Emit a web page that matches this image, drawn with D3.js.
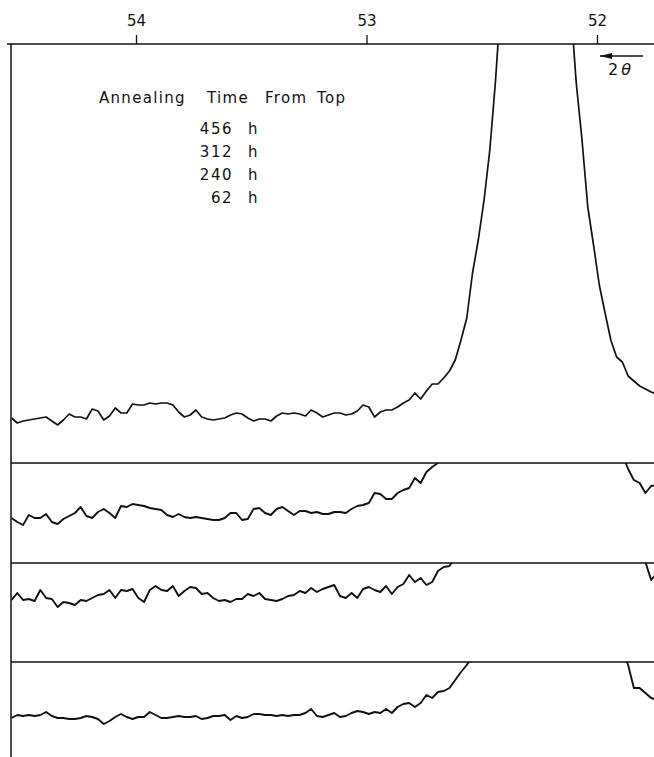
<!DOCTYPE html>
<html>
<head>
<meta charset="utf-8">
<script src="https://cdn.jsdelivr.net/npm/d3@7"></script>
<style>
  body { margin: 0; background: #fff; }
  svg text { font-family: "DejaVu Sans", sans-serif; fill: #111; }
</style>
</head>
<body>
<div id="main"></div>
<script>
// 2-theta sampling (degrees), scan runs from high angle (left) to low angle (right)
const twoTheta = [
  54.54, 54.515, 54.49, 54.465, 54.44, 54.415, 54.39, 54.365, 54.34, 54.315,
  54.29, 54.265, 54.24, 54.215, 54.19, 54.165, 54.14, 54.115, 54.09, 54.065,
  54.04, 54.015, 53.99, 53.965, 53.94, 53.915, 53.89, 53.865, 53.84, 53.815,
  53.79, 53.765, 53.74, 53.715, 53.69, 53.665, 53.64, 53.615, 53.59, 53.565,
  53.54, 53.515, 53.49, 53.465, 53.44, 53.415, 53.39, 53.365, 53.34, 53.315,
  53.29, 53.265, 53.24, 53.215, 53.19, 53.165, 53.14, 53.115, 53.09, 53.065,
  53.04, 53.015, 52.99, 52.965, 52.94, 52.915, 52.89, 52.865, 52.84, 52.815,
  52.79, 52.765, 52.74, 52.715, 52.69, 52.665, 52.64, 52.615, 52.59, 52.565,
  52.54, 52.515, 52.49, 52.465, 52.44, 52.415, 52.39, 52.365, 52.34, 52.315,
  52.29, 52.265, 52.24, 52.215, 52.19, 52.165, 52.14, 52.115, 52.09, 52.065,
  52.04, 52.015, 51.99, 51.965, 51.94, 51.915, 51.89, 51.865, 51.84, 51.815,
  51.79, 51.765, 51.74
];

// intensity (arb. units)
const i456 = [
  4.5, 4.0, 4.2, 4.3, 4.4, 4.5, 4.6, 4.2, 3.8, 4.3,
  4.9, 4.6, 4.6, 4.4, 5.4, 5.2, 4.3, 4.7, 5.5, 5.0,
  5.0, 5.9, 5.8, 5.8, 6.0, 5.9, 6.0, 6.0, 5.8, 5.1,
  4.6, 4.8, 5.3, 4.6, 4.4, 4.3, 4.4, 4.5, 4.8, 5.0,
  4.9, 4.5, 4.2, 4.4, 4.4, 4.2, 4.7, 5.0, 4.9, 5.0,
  4.9, 4.7, 5.3, 5.0, 4.6, 4.8, 5.0, 5.0, 4.8, 4.9,
  5.2, 5.8, 5.6, 4.6, 5.1, 5.3, 5.3, 5.6, 6.0, 6.3,
  7.0, 6.4, 7.2, 7.9, 7.9, 8.5, 9.2, 10.3, 12.3, 14.5,
  19.0, 22.3, 26.3, 31.3, 38.3, 47, 56, 65, 74, 82,
  88, 90, 88, 82, 74, 65, 55, 46, 38.0, 32.3,
  25.6, 21.8, 17.8, 15.0, 12.3, 10.6, 10.1, 8.7, 8.2, 7.7,
  7.4, 7.1, 6.9
];
const i312 = [
  4.5, 4.1, 3.8, 4.8, 4.5, 4.5, 4.9, 4.1, 3.9, 4.4,
  4.7, 5.0, 5.6, 4.7, 4.5, 5.1, 5.4, 5.0, 4.5, 5.7,
  5.6, 5.9, 5.8, 5.7, 5.5, 5.4, 5.3, 4.8, 4.6, 4.9,
  4.6, 4.5, 4.6, 4.5, 4.4, 4.3, 4.3, 4.5, 5.0, 5.0,
  4.3, 4.4, 5.4, 5.5, 5.0, 4.8, 5.4, 5.6, 5.2, 4.8,
  5.2, 5.2, 5.0, 5.1, 4.9, 4.9, 5.1, 5.1, 5.0, 5.4,
  5.7, 5.8, 6.0, 7.0, 6.9, 6.4, 6.4, 7.0, 7.3, 7.5,
  8.5, 8.0, 9.1, 9.6, 10.0, 11.3, 12.6, 14, 16, 19,
  23, 28, 34, 42, 51, 60, 69, 77, 83, 87,
  88, 87, 83, 76, 67, 57, 47, 38, 30, 24,
  20, 17, 15, 13.5, 12.5, 11.6, 10.8, 9.4, 8.3, 8.0,
  7.0, 7.7, 7.8
];
const i240 = [
  6.3, 7.0, 6.3, 6.4, 6.2, 7.3, 6.5, 6.4, 5.6, 6.1,
  6.0, 5.8, 6.3, 6.2, 6.5, 6.8, 6.9, 7.3, 6.5, 7.3,
  7.2, 7.4, 6.5, 6.1, 7.3, 7.7, 7.3, 7.2, 7.7, 6.7,
  7.2, 7.6, 7.5, 6.9, 7.0, 6.5, 6.2, 6.3, 6.1, 6.4,
  6.4, 6.9, 6.7, 7.0, 6.4, 6.3, 6.2, 6.4, 6.7, 6.8,
  7.2, 7.0, 7.5, 7.1, 7.4, 7.6, 7.8, 6.7, 6.5, 7.0,
  6.5, 7.4, 7.6, 7.3, 7.1, 7.7, 6.9, 7.6, 7.9, 8.8,
  8.1, 8.5, 7.8, 8.1, 9.2, 9.6, 9.7, 10.6, 12, 14,
  17, 21, 26, 32, 39, 47, 56, 65, 74, 82,
  88, 90, 89, 84, 77, 68, 58, 48, 39, 31,
  24, 19, 16, 14, 12.5, 11.5, 11, 10.7, 10.5, 10.3,
  10.1, 8.3, 9.0
];
const i62 = [
  4.4, 4.7, 4.6, 4.7, 4.6, 4.7, 5.0, 4.6, 4.4, 4.4,
  4.3, 4.3, 4.4, 4.6, 4.5, 4.3, 3.8, 4.1, 4.5, 4.8,
  4.5, 4.3, 4.5, 4.5, 5.0, 4.7, 4.4, 4.4, 4.5, 4.6,
  4.5, 4.5, 4.6, 4.3, 4.4, 4.6, 4.6, 4.7, 4.2, 4.6,
  4.4, 4.5, 4.8, 4.8, 4.7, 4.7, 4.6, 4.7, 4.6, 4.7,
  4.7, 4.9, 5.3, 4.6, 4.5, 4.7, 4.9, 4.5, 4.6, 4.9,
  5.1, 5.0, 4.8, 5.0, 4.9, 5.3, 4.9, 5.5, 5.8, 5.9,
  5.5, 5.9, 6.7, 6.4, 7.0, 7.1, 7.4, 8.2, 9.0, 9.7,
  10.6, 12, 14, 17, 21, 26, 33, 42, 52, 62,
  70, 74, 72, 66, 57, 47, 38, 31, 26, 22,
  19, 17, 15.5, 14.5, 13.5, 13, 11.2, 9.7, 7.4, 7.4,
  6.9, 6.4, 6.2
];

const annealHours = ["456", "312", "240", "62"];
const legendWords = ["Annealing", "Time", "From", "Top"];
const xTicks = [54, 53, 52];

const ctx = { w: 654, h: 757, left: 11, right: 654 };
// stacked strips, top strip is the tallest
const strips = [
  { top: 44, bottom: 463, data: i456 },
  { top: 463, bottom: 563, data: i312 },
  { top: 563, bottom: 663, data: i240 },
  { top: 662, bottom: 762, data: i62 }
];
const pxPerUnit = 10;

const svg = d3.select("#main").append("svg")
  .attr("width", ctx.w)
  .attr("height", ctx.h);

const x = d3.scaleLinear().domain([54, 52]).range([136, 597]);

// top axis, ticks pointing up
const axisG = svg.append("g").attr("transform", `translate(0, ${strips[0].top})`);
axisG.call(d3.axisTop(x).tickValues(xTicks).tickSize(9).tickPadding(9).tickFormat(d3.format("d")))
  .call(g => g.select(".domain").remove())
  .call(g => g.selectAll(".tick line").attr("stroke", "#111").attr("stroke-width", 1.3))
  .call(g => g.selectAll(".tick text")
    .attr("font-size", 15).attr("fill", "#111")
    .style("font-family", "DejaVu Sans, sans-serif"));

// frame: top axis line, left edge, strip separators
svg.append("line")
  .attr("x1", 7).attr("x2", ctx.right)
  .attr("y1", strips[0].top).attr("y2", strips[0].top)
  .attr("stroke", "#111").attr("stroke-width", 1.6);
svg.append("line")
  .attr("x1", ctx.left).attr("x2", ctx.left)
  .attr("y1", strips[0].top).attr("y2", ctx.h)
  .attr("stroke", "#111").attr("stroke-width", 1.5);
svg.selectAll(".sep")
  .data(strips.slice(1))
  .enter().append("line")
  .attr("class", "sep")
  .attr("x1", ctx.left).attr("x2", ctx.right)
  .attr("y1", d => d.top).attr("y2", d => d.top)
  .attr("stroke", "#111").attr("stroke-width", 1.6);

// traces, each clipped to its own strip
strips.forEach((s, k) => {
  const y = d3.scaleLinear()
    .domain([0, (s.bottom - s.top) / pxPerUnit])
    .range([s.bottom, s.top]);
  svg.append("clipPath").attr("id", "clip-" + k)
    .append("rect")
    .attr("x", ctx.left).attr("y", s.top)
    .attr("width", ctx.right - ctx.left).attr("height", s.bottom - s.top);
  const line = d3.line()
    .x((d, i) => x(twoTheta[i]))
    .y(d => y(d));
  svg.append("path")
    .datum(s.data)
    .attr("clip-path", `url(#clip-${k})`)
    .attr("fill", "none")
    .attr("stroke", "#111")
    .attr("stroke-width", k === 0 ? 1.7 : 1.9)
    .attr("stroke-linejoin", "round")
    .attr("d", line);
});

// legend
const wordX = [99, 207, 265, 317];
svg.append("g").selectAll("text")
  .data(legendWords)
  .enter().append("text")
  .attr("x", (d, i) => wordX[i]).attr("y", 103)
  .attr("font-size", 15)
  .attr("letter-spacing", 1.3)
  .text(d => d);

const leg = svg.selectAll(".hrs")
  .data(annealHours)
  .enter().append("g")
  .attr("class", "hrs")
  .attr("transform", (d, i) => `translate(0, ${134 + i * 23})`);
leg.append("text")
  .attr("x", 233).attr("text-anchor", "end")
  .attr("font-size", 15).attr("letter-spacing", 1.5)
  .text(d => d);
leg.append("text")
  .attr("x", 248)
  .attr("font-size", 15)
  .text("h");

// scan direction: arrow over 2θ
svg.append("defs").append("marker")
  .attr("id", "arrow").attr("viewBox", "0 0 12 6")
  .attr("refX", 12).attr("refY", 3)
  .attr("markerWidth", 12).attr("markerHeight", 6)
  .attr("markerUnits", "userSpaceOnUse")
  .attr("orient", "auto")
  .append("path").attr("d", "M0,0 L12,3 L0,6 Z").attr("fill", "#111");
svg.append("line")
  .attr("x1", 643).attr("x2", 600)
  .attr("y1", 56).attr("y2", 56)
  .attr("stroke", "#111").attr("stroke-width", 1.4)
  .attr("marker-end", "url(#arrow)");
svg.append("text")
  .attr("x", 608).attr("y", 75)
  .attr("font-size", 16)
  .text("2")
  .append("tspan").attr("dx", 3).attr("font-style", "italic").text("θ");
</script>
</body>
</html>
